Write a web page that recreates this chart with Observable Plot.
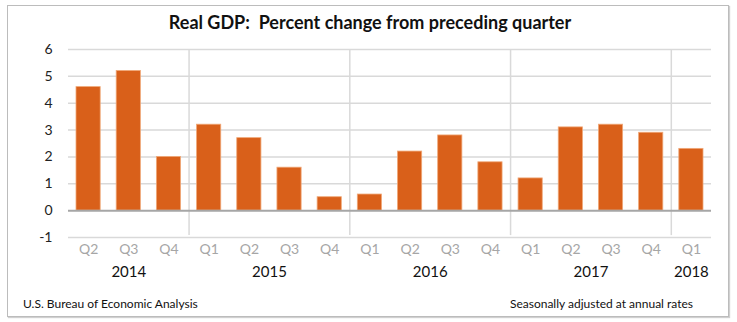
<!DOCTYPE html>
<html>
<head>
<meta charset="utf-8">
<script src="https://cdn.jsdelivr.net/npm/d3@7"></script>
<script src="https://cdn.jsdelivr.net/npm/@observablehq/plot@0.6"></script>
<style>
  html, body { margin: 0; padding: 0; background: #fff; }
  #wrap { position: relative; width: 737px; height: 322px; font-family: Lato, "Open Sans", sans-serif; }
  #frame { position: absolute; left: 7px; top: 5px; width: 722px; height: 312px; border: 1.5px solid #bcbcbc; box-shadow: 1px 1px 1px #d0d0d0; box-sizing: border-box; }
  #title { position: absolute; left: 0; width: 740px; top: 11px; text-align: center; font-weight: bold; font-size: 18px; color: #111; }
  #chart { position: absolute; left: 0; top: 0; }
  .foot { position: absolute; top: 296px; font-size: 12px; color: #111; }
</style>
</head>
<body>
<div id="wrap">
  <div id="frame"></div>
  <div id="title">Real GDP:&nbsp; Percent change from preceding quarter</div>
  <div id="chart"></div>
  <div class="foot" style="left:23px">U.S. Bureau of Economic Analysis</div>
  <div class="foot" style="right:44px">Seasonally adjusted at annual rates</div>
</div>
<script>
const quarters = ["Q2","Q3","Q4","Q1","Q2","Q3","Q4","Q1","Q2","Q3","Q4","Q1","Q2","Q3","Q4","Q1"];
const years    = [2014,2014,2014,2015,2015,2015,2015,2016,2016,2016,2016,2017,2017,2017,2017,2018];
const values   = [4.6, 5.2, 2.0, 3.2, 2.7, 1.6, 0.5, 0.6, 2.2, 2.8, 1.8, 1.2, 3.1, 3.2, 2.9, 2.3];
const yearLabels = ["2014","2015","2016","2017","2018"];
const yTicks = [-1, 0, 1, 2, 3, 4, 5, 6];

const data = quarters.map((q, i) => ({i, q, year: years[i], value: values[i]}));
const yearPos = yearLabels.map(y => {
  const idx = data.filter(d => String(d.year) === y).map(d => d.i);
  return {year: y, x: (d3.min(idx) + d3.max(idx) + 1) / 2};
});
const seps = data.filter((d, i) => i > 0 && d.year !== data[i - 1].year).map(d => d.i);

const chart = Plot.plot({
  width: 737,
  height: 322,
  marginLeft: 68,
  marginRight: 26,
  marginTop: 49,
  marginBottom: 85,
  style: {fontFamily: "Lato, 'Open Sans', sans-serif", fontSize: "14px", color: "#222", background: "transparent", overflow: "visible"},
  x: {domain: [0, quarters.length], axis: null},
  y: {domain: [-1, 6], ticks: yTicks, tickSize: 0, tickPadding: 16, label: null, tickFormat: d => String(d)},
  marks: [
    Plot.ruleY(yTicks.filter(t => t !== 0), {stroke: "#d9d9d9", strokeWidth: 1.5}),
    Plot.ruleX(seps, {x: d => d, y1: -0.93, y2: 6, stroke: "#d9d9d9", strokeWidth: 1.5}),
    Plot.rectY(data, {x1: "i", x2: d => d.i + 1, y: "value", insetLeft: 8, insetRight: 8, fill: "#D9601A", stroke: "#f0a878", strokeWidth: 0.8}),
    Plot.ruleY([0], {stroke: "#a6a6a6", strokeWidth: 2}),
    Plot.text(data, {x: d => d.i + 0.5, text: "q", frameAnchor: "bottom", dy: 16, fill: "#a6a6a6", fontSize: 14}),
    Plot.text(yearPos, {x: "x", text: "year", frameAnchor: "bottom", dy: 39, fill: "#111", fontSize: 15})
  ]
});
document.getElementById("chart").appendChild(chart);
</script>
</body>
</html>
